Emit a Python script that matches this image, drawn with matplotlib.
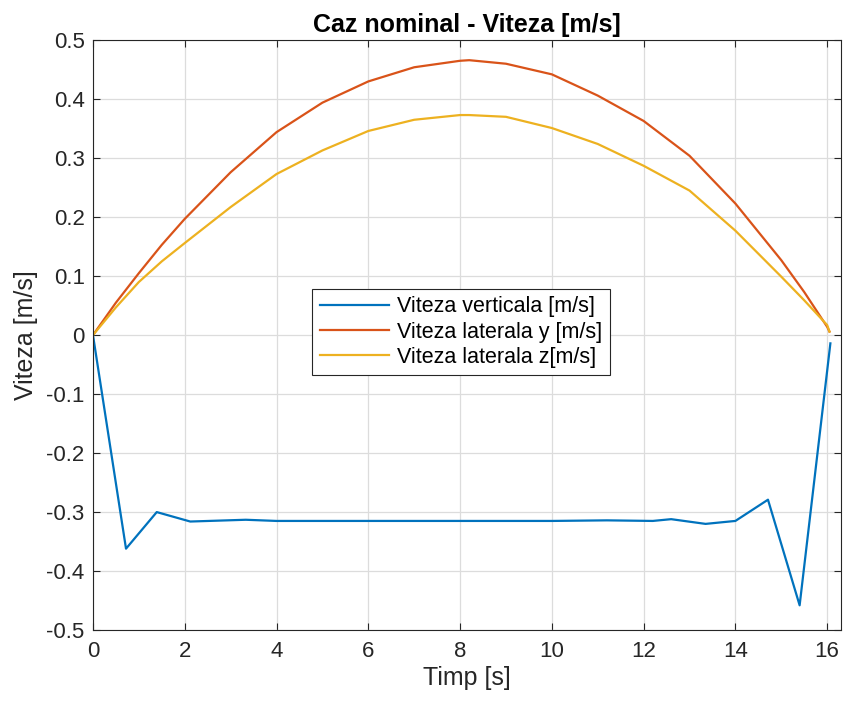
import numpy as np
import matplotlib.pyplot as plt

plt.rcParams['font.family'] = ['Liberation Sans', 'DejaVu Sans']

# Data
t_vert = [0.0, 0.72, 1.39, 2.12, 3.33, 4.0, 6.0, 8.0, 10.0, 11.2, 12.2, 12.6,
          13.35, 14.0, 14.71, 15.4, 16.07]
v_vert = [0.0, -0.362, -0.300, -0.316, -0.313, -0.315, -0.315, -0.315, -0.315,
          -0.314, -0.315, -0.312, -0.320, -0.315, -0.279, -0.458, -0.014]

t_lat = [0, 0.5, 1, 1.5, 2, 3, 4, 5, 6, 7, 8, 8.2, 9, 10, 11, 12, 13, 14, 15,
         15.5, 16, 16.05]
v_lat_y = [0.0, 0.055, 0.105, 0.153, 0.197, 0.276, 0.344, 0.394, 0.430, 0.454,
           0.465, 0.466, 0.460, 0.442, 0.406, 0.363, 0.304, 0.223, 0.127,
           0.073, 0.014, 0.006]
v_lat_z = [0.0, 0.047, 0.090, 0.125, 0.156, 0.217, 0.273, 0.313, 0.346, 0.365,
           0.373, 0.373, 0.370, 0.351, 0.324, 0.287, 0.245, 0.177, 0.099,
           0.059, 0.017, 0.006]

labels = ['Viteza verticala [m/s]', 'Viteza laterala y [m/s]', 'Viteza laterala z[m/s]']
colors = ['#0072BD', '#D95319', '#EDB120']

fig = plt.figure(figsize=(8.49, 7.04), dpi=100)
ax = fig.add_axes([0.1095, 0.105, 0.881, 0.838])

ax.plot(t_vert, v_vert, color=colors[0], lw=1.6, label=labels[0])
ax.plot(t_lat, v_lat_y, color=colors[1], lw=1.6, label=labels[1])
ax.plot(t_lat, v_lat_z, color=colors[2], lw=1.6, label=labels[2])

ax.set_xlim(0, 16.3)
ax.set_ylim(-0.5, 0.5)
ax.set_xticks(np.arange(0, 17, 2))
ax.set_yticks(np.arange(-0.5, 0.51, 0.1))
ax.set_yticklabels(['-0.5', '-0.4', '-0.3', '-0.2', '-0.1', '0',
                    '0.1', '0.2', '0.3', '0.4', '0.5'])
ax.grid(True, color='#DCDCDC', lw=0.9)
ax.set_axisbelow(True)
ax.tick_params(direction='in', top=True, right=True, labelsize=16,
               colors='#262626', length=5)
ax.tick_params(axis='x', pad=8)
ax.tick_params(axis='y', pad=6)
for s in ax.spines.values():
    s.set_color('#262626')
    s.set_linewidth(0.8)

ax.set_title('Caz nominal - Viteza [m/s]', fontsize=18, fontweight='bold', pad=6)
ax.set_xlabel('Timp [s]', fontsize=18, color='#262626', labelpad=3)
ax.set_ylabel('Viteza [m/s]', fontsize=18, color='#262626', labelpad=6)

leg = ax.legend(loc='center', bbox_to_anchor=(0.492, 0.505), fontsize=15.5,
                fancybox=False, edgecolor='#262626', framealpha=1,
                handlelength=3.2, borderpad=0.35, labelspacing=0.2,
                handletextpad=0.4)
leg.get_frame().set_linewidth(0.8)

fig.savefig('out.png', dpi=100)
